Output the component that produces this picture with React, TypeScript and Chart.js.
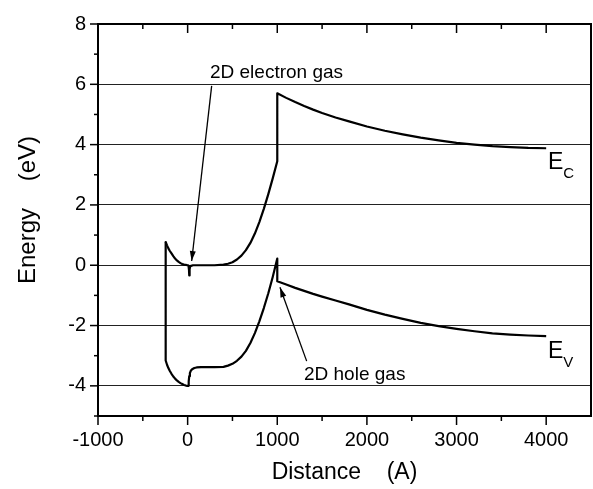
import React, { useEffect, useRef } from "react";
import { Chart, registerables } from "chart.js";

Chart.register(...registerables);

const FONT = '"Liberation Sans", Arial, Helvetica, sans-serif';

// Conduction band edge E_C
const ecX = [-245, -230, -215, -200, -180, -160, -140, -120, -100, -80, -60, -40, -20, 0, 10, 15, 18, 22, 30, 60, 100, 200, 300, 400, 450, 500, 550, 600, 650, 700, 750, 800, 850, 900, 950, 1000, 1000, 1100, 1200, 1300, 1400, 1500, 1650, 1800, 2000, 2200, 2400, 2600, 2800, 3000, 3200, 3400, 3600, 3800, 4000];
const ecY = [0.77, 0.66, 0.56, 0.48, 0.39, 0.3, 0.22, 0.16, 0.11, 0.07, 0.04, 0.02, 0.01, 0.0, -0.02, -0.15, -0.34, -0.12, -0.03, 0.0, 0.0, 0.0, 0.0, 0.02, 0.05, 0.1, 0.19, 0.32, 0.5, 0.74, 1.05, 1.43, 1.87, 2.36, 2.89, 3.45, 5.7, 5.55, 5.41, 5.28, 5.16, 5.05, 4.9, 4.77, 4.6, 4.46, 4.34, 4.23, 4.14, 4.06, 4.0, 3.95, 3.92, 3.89, 3.88];

// Valence band edge E_V
const evX = [-245, -245, -230, -215, -200, -180, -160, -140, -120, -100, -80, -60, -40, -20, 0, 8, 12, 18, 25, 35, 50, 75, 100, 150, 200, 300, 400, 450, 500, 550, 600, 650, 700, 750, 800, 850, 900, 950, 1000, 1000, 1100, 1200, 1300, 1400, 1500, 1650, 1800, 2000, 2200, 2400, 2600, 2800, 3000, 3200, 3400, 3600, 3800, 4000];
const evY = [0.77, -3.16, -3.3, -3.41, -3.5, -3.6, -3.69, -3.76, -3.82, -3.87, -3.91, -3.94, -3.97, -3.99, -4.0, -4.0, -3.85, -3.68, -3.58, -3.5, -3.45, -3.41, -3.39, -3.38, -3.38, -3.38, -3.37, -3.33, -3.27, -3.17, -3.03, -2.84, -2.58, -2.25, -1.86, -1.42, -0.93, -0.38, 0.22, -0.53, -0.64, -0.75, -0.85, -0.95, -1.04, -1.17, -1.3, -1.48, -1.64, -1.78, -1.91, -2.02, -2.11, -2.19, -2.26, -2.3, -2.33, -2.35];

const xMajorTicks = [-1000, 0, 1000, 2000, 3000, 4000];
const xMinorTicks = [-500, 500, 1500, 2500, 3500];
const yMajorTicks = [-4, -2, 0, 2, 4, 6, 8];
const yMinorTicks = [-5, -3, -1, 1, 3, 5, 7];

const xTitle = "Distance    (A)";
const yTitle = "Energy    (eV)";

// annotation texts (data coordinates)
const noteTexts = ["2D electron gas", "2D hole gas"];
const noteX = [249, 1298];
const noteY = [6.37, -3.62];
const arrowFromX = [268, 1328];
const arrowFromY = [5.95, -3.18];
const arrowToX = [45, 1030];
const arrowToY = [0.14, -0.73];

const bandMain = ["E", "E"];
const bandSub = ["C", "V"];
const bandX = [4020, 4020];
const bandY = [3.39, -2.87];

function drawArrow(ctx: CanvasRenderingContext2D, x1: number, y1: number, x2: number, y2: number) {
  ctx.beginPath();
  ctx.moveTo(x1, y1);
  ctx.lineTo(x2, y2);
  ctx.stroke();
  const a = Math.atan2(y2 - y1, x2 - x1);
  const L = 10;
  const W = 3;
  const c = Math.cos(a);
  const s = Math.sin(a);
  ctx.beginPath();
  ctx.moveTo(x2, y2);
  ctx.lineTo(x2 - L * c + W * s, y2 - L * s - W * c);
  ctx.lineTo(x2 - L * c - W * s, y2 - L * s + W * c);
  ctx.closePath();
  ctx.fill();
}

const framePlugin = {
  id: "frame",
  afterDraw(chart: any) {
    const ctx: CanvasRenderingContext2D = chart.ctx;
    const xs = chart.scales.x;
    const ys = chart.scales.y;
    const a = chart.chartArea;
    ctx.save();
    ctx.strokeStyle = "#000";
    ctx.fillStyle = "#000";
    // box
    ctx.lineWidth = 2;
    ctx.strokeRect(a.left, a.top, a.right - a.left, a.bottom - a.top);
    // ticks
    ctx.lineWidth = 1.5;
    const seg = (x1: number, y1: number, x2: number, y2: number) => {
      ctx.beginPath();
      ctx.moveTo(x1, y1);
      ctx.lineTo(x2, y2);
      ctx.stroke();
    };
    xMajorTicks.forEach((v) => {
      const p = xs.getPixelForValue(v);
      seg(p, a.bottom, p, a.bottom + 9);
      seg(p, a.top, p, a.top + 9);
    });
    xMinorTicks.forEach((v) => {
      const p = xs.getPixelForValue(v);
      seg(p, a.bottom, p, a.bottom + 5);
      seg(p, a.top, p, a.top + 5);
    });
    yMajorTicks.forEach((v) => {
      const p = ys.getPixelForValue(v);
      seg(a.left - 8, p, a.left, p);
    });
    yMinorTicks.forEach((v) => {
      const p = ys.getPixelForValue(v);
      seg(a.left - 4, p, a.left, p);
    });
    // axis titles
    ctx.font = `23px ${FONT}`;
    ctx.textAlign = "center";
    ctx.textBaseline = "alphabetic";
    ctx.fillText(xTitle, (a.left + a.right) / 2, 479);
    ctx.save();
    ctx.font = `24px ${FONT}`;
    ctx.translate(35, (a.top + a.bottom) / 2 - 10);
    ctx.rotate(-Math.PI / 2);
    ctx.fillText(yTitle, 0, 0);
    ctx.restore();
    // annotations
    ctx.font = `19px ${FONT}`;
    ctx.textAlign = "left";
    ctx.textBaseline = "middle";
    noteTexts.forEach((t, i) => {
      ctx.fillText(t, xs.getPixelForValue(noteX[i]), ys.getPixelForValue(noteY[i]));
    });
    ctx.lineWidth = 1.3;
    arrowFromX.forEach((_, i) => {
      drawArrow(
        ctx,
        xs.getPixelForValue(arrowFromX[i]),
        ys.getPixelForValue(arrowFromY[i]),
        xs.getPixelForValue(arrowToX[i]),
        ys.getPixelForValue(arrowToY[i])
      );
    });
    // band labels
    bandMain.forEach((t, i) => {
      const px = xs.getPixelForValue(bandX[i]);
      const py = ys.getPixelForValue(bandY[i]);
      ctx.font = `23px ${FONT}`;
      ctx.textBaseline = "middle";
      ctx.fillText(t, px, py);
      const w = ctx.measureText(t).width;
      ctx.font = `15px ${FONT}`;
      ctx.fillText(bandSub[i], px + w, py + 11);
    });
    ctx.restore();
  },
};

export default function App() {
  const ref = useRef<HTMLCanvasElement>(null);
  useEffect(() => {
    const canvas = ref.current!;
    const lineDs = (xs: number[], ys: number[]) => ({
      data: xs.map((x, i) => ({ x, y: ys[i] })),
      showLine: true,
      borderColor: "#000",
      backgroundColor: "#000",
      borderWidth: 2.2,
      borderJoinStyle: "round",
      pointRadius: 0,
      pointHoverRadius: 0,
      tension: 0,
      fill: false,
    });
    const chart = new Chart(canvas, {
      type: "scatter",
      data: { datasets: [lineDs(ecX, ecY), lineDs(evX, evY)] as any },
      options: {
        responsive: false,
        animation: false,
        devicePixelRatio: 1,
        layout: { padding: { top: 17, right: 2, left: 0, bottom: 0 } },
        plugins: { legend: { display: false }, tooltip: { enabled: false } },
        scales: {
          x: {
            type: "linear",
            min: -1000,
            max: 4500,
            afterBuildTicks: (s: any) => {
              s.ticks = xMajorTicks.map((v) => ({ value: v }));
            },
            afterFit: (s: any) => {
              s.height = 73;
            },
            grid: { display: false, drawTicks: false },
            border: { display: false },
            ticks: {
              font: { family: FONT, size: 20 },
              color: "#000",
              padding: 12,
              maxRotation: 0,
              autoSkip: false,
              callback: (v: any) => String(v),
            },
          },
          y: {
            type: "linear",
            min: -5,
            max: 8,
            afterBuildTicks: (s: any) => {
              s.ticks = yMajorTicks.map((v) => ({ value: v }));
            },
            afterFit: (s: any) => {
              s.width = 98;
            },
            grid: { display: true, drawTicks: false, color: "#222", lineWidth: 1 },
            border: { display: false },
            ticks: {
              font: { family: FONT, size: 20 },
              color: "#000",
              padding: 12,
              autoSkip: false,
              callback: (v: any) => String(v),
            },
          },
        },
      },
      plugins: [framePlugin],
    });
    return () => chart.destroy();
  }, []);
  return (
    <div style={{ position: "fixed", left: 0, top: 0, width: 593, height: 489, background: "#fff" }}>
      <canvas ref={ref} width={593} height={489} style={{ display: "block" }} />
    </div>
  );
}
